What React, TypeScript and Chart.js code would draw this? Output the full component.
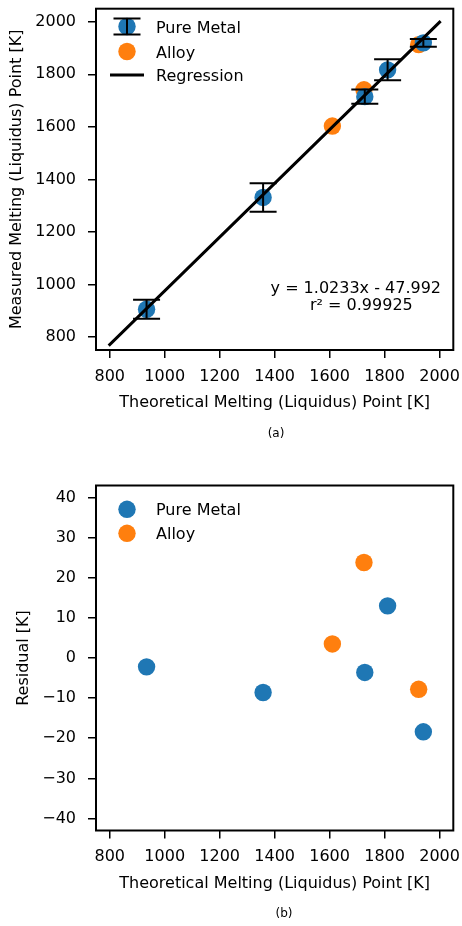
import React, { useEffect, useRef } from 'react';
import { Chart, registerables } from 'chart.js';
Chart.register(...registerables);

const FONT = 'DejaVu Sans';
const FS = 16;
const BLUE = '#1f77b4';
const ORANGE = '#ff7f0e';
const INK = '#000000';

const X_TICKS = [800, 1000, 1200, 1400, 1600, 1800, 2000];
const Y_TICKS_A = [800, 1000, 1200, 1400, 1600, 1800, 2000];
const Y_TICKS_B = [-40, -30, -20, -10, 0, 10, 20, 30, 40];

// Pure metals
const PURE_X = [934, 1358, 1728, 1811, 1941];
const PURE_Y = [905, 1331, 1715, 1817, 1920];
const PURE_ERR = [36, 54, 27, 40, 14.5];
const PURE_RES = [-2.2, -8.6, -3.6, 13.0, -18.4];

// Alloys
const ALLOY_X = [1610, 1725, 1924];
const ALLOY_Y = [1603, 1741, 1913];
const ALLOY_RES = [3.5, 23.8, -7.8];

// Regression line endpoints
const REG_X = [800, 2000];
const REG_Y = [770.6, 1998.6];

const EQ_LINE = 'y = 1.0233x - 47.992';
const R2_LINE = 'r² = 0.99925';

const fmt = (v: number) => (v < 0 ? '\u2212' + Math.abs(v) : String(v));

type LegendEntry = { kind: 'err' | 'dot' | 'line'; color: string; y: number; label: string };

function makeConfig(panel: 'a' | 'b'): any {
  const isA = panel === 'a';
  const yTicks = isA ? Y_TICKS_A : Y_TICKS_B;
  const legend: LegendEntry[] = isA
    ? [
        { kind: 'err', color: BLUE, y: 26.5, label: 'Pure Metal' },
        { kind: 'dot', color: ORANGE, y: 51.5, label: 'Alloy' },
        { kind: 'line', color: INK, y: 75, label: 'Regression' },
      ]
    : [
        { kind: 'dot', color: BLUE, y: 46.3, label: 'Pure Metal' },
        { kind: 'dot', color: ORANGE, y: 70.3, label: 'Alloy' },
      ];

  const datasets: any[] = [];
  if (isA) {
    datasets.push({
      label: 'Regression',
      data: REG_X.map((x, i) => ({ x, y: REG_Y[i] })),
      showLine: true,
      borderColor: INK,
      borderWidth: 3,
      pointRadius: 0,
      borderCapStyle: 'square',
      order: 0,
    });
  }
  datasets.push({
    label: 'Pure Metal',
    data: PURE_X.map((x, i) => ({ x, y: isA ? PURE_Y[i] : PURE_RES[i] })),
    backgroundColor: BLUE,
    borderColor: BLUE,
    borderWidth: 0,
    pointRadius: 8.7,
    order: 1,
  });
  datasets.push({
    label: 'Alloy',
    data: ALLOY_X.map((x, i) => ({ x, y: isA ? ALLOY_Y[i] : ALLOY_RES[i] })),
    backgroundColor: ORANGE,
    borderColor: ORANGE,
    borderWidth: 0,
    pointRadius: 8.7,
    order: 2,
  });

  const errorBars = {
    id: 'errorBars' + panel,
    afterDatasetsDraw(chart: any) {
      if (!isA) return;
      const { ctx, scales } = chart;
      ctx.save();
      ctx.strokeStyle = INK;
      ctx.lineWidth = 2;
      PURE_X.forEach((x, i) => {
        const px = scales.x.getPixelForValue(x);
        const top = scales.y.getPixelForValue(PURE_Y[i] + PURE_ERR[i]);
        const bot = scales.y.getPixelForValue(PURE_Y[i] - PURE_ERR[i]);
        ctx.beginPath();
        ctx.moveTo(px, top);
        ctx.lineTo(px, bot);
        ctx.moveTo(px - 13.5, top);
        ctx.lineTo(px + 13.5, top);
        ctx.moveTo(px - 13.5, bot);
        ctx.lineTo(px + 13.5, bot);
        ctx.stroke();
      });
      ctx.restore();
    },
  };

  const decor = {
    id: 'decor' + panel,
    afterDraw(chart: any) {
      const { ctx, chartArea } = chart;
      ctx.save();
      // frame
      ctx.strokeStyle = INK;
      ctx.lineWidth = 2;
      ctx.strokeRect(chartArea.left, chartArea.top, chartArea.right - chartArea.left, chartArea.bottom - chartArea.top);
      // legend
      const mx = 127;
      ctx.font = `${FS}px "${FONT}"`;
      ctx.textAlign = 'left';
      ctx.textBaseline = 'alphabetic';
      legend.forEach((e) => {
        if (e.kind === 'line') {
          ctx.strokeStyle = INK;
          ctx.lineWidth = 3;
          ctx.beginPath();
          ctx.moveTo(110, e.y);
          ctx.lineTo(144, e.y);
          ctx.stroke();
        } else {
          ctx.fillStyle = e.color;
          ctx.beginPath();
          ctx.arc(mx, e.y, 8.7, 0, Math.PI * 2);
          ctx.fill();
          if (e.kind === 'err') {
            ctx.strokeStyle = INK;
            ctx.lineWidth = 2;
            ctx.beginPath();
            ctx.moveTo(mx, e.y - 8);
            ctx.lineTo(mx, e.y + 8);
            ctx.moveTo(mx - 13.5, e.y - 8);
            ctx.lineTo(mx + 13.5, e.y - 8);
            ctx.moveTo(mx - 13.5, e.y + 8);
            ctx.lineTo(mx + 13.5, e.y + 8);
            ctx.stroke();
          }
        }
        ctx.fillStyle = INK;
        ctx.fillText(e.label, 156, e.y + 6);
      });
      // regression annotation
      if (isA) {
        ctx.textAlign = 'right';
        ctx.fillText(EQ_LINE, 441, 292.5);
        ctx.textAlign = 'left';
        ctx.fillText(R2_LINE, 310, 310);
      }
      // caption
      ctx.font = `12px "${FONT}"`;
      ctx.textAlign = 'center';
      ctx.textBaseline = 'middle';
      ctx.fillText(isA ? '(a)' : '(b)', isA ? 276 : 284, isA ? 434 : 451.3);
      ctx.restore();
    },
  };

  const topPad = isA ? 5.5 : 22.5;
  const areaBottom = isA ? 350 : 367.5;
  const axisBottom = isA ? 420 : 437.5;

  return {
    type: 'scatter',
    data: { datasets },
    plugins: [errorBars, decor],
    options: {
      responsive: false,
      devicePixelRatio: 1,
      animation: false,
      layout: { padding: { left: 0, right: 7, top: topPad, bottom: 463 - axisBottom } },
      plugins: { legend: { display: false }, tooltip: { enabled: false } },
      scales: {
        x: {
          type: 'linear',
          min: 750,
          max: 2050,
          afterBuildTicks: (s: any) => {
            s.ticks = X_TICKS.map((v) => ({ value: v }));
          },
          afterFit: (s: any) => {
            s.height = axisBottom - areaBottom;
            s.paddingLeft = 0;
            s.paddingRight = 0;
          },
          grid: { display: true, drawOnChartArea: false, drawTicks: true, tickLength: 8, color: INK, lineWidth: 1.5 },
          border: { display: false },
          ticks: {
            color: INK,
            font: { family: FONT, size: FS },
            padding: 9,
            maxRotation: 0,
            autoSkip: false,
            callback: (v: any) => fmt(Number(v)),
          },
          title: {
            display: true,
            text: 'Theoretical Melting (Liquidus) Point [K]',
            color: INK,
            font: { family: FONT, size: FS },
            padding: { top: 0, bottom: 7.4 },
          },
        },
        y: {
          type: 'linear',
          min: isA ? 750 : -43,
          max: isA ? 2050 : 43,
          afterBuildTicks: (s: any) => {
            s.ticks = yTicks.map((v) => ({ value: v }));
          },
          afterFit: (s: any) => {
            s.width = 96;
            s.paddingTop = 0;
            s.paddingBottom = 0;
          },
          grid: { display: true, drawOnChartArea: false, drawTicks: true, tickLength: 8, color: INK, lineWidth: 1.5 },
          border: { display: false },
          ticks: {
            color: INK,
            font: { family: FONT, size: FS },
            padding: 12,
            autoSkip: false,
            callback: (v: any) => fmt(Number(v)),
          },
          title: {
            display: true,
            text: isA ? 'Measured Melting (Liquidus) Point [K]' : 'Residual [K]',
            color: INK,
            font: { family: FONT, size: FS },
            padding: { top: isA ? 7.4 : 14.4, bottom: 0 },
          },
        },
      },
    },
  };
}

export default function App() {
  const refA = useRef<HTMLCanvasElement>(null);
  const refB = useRef<HTMLCanvasElement>(null);
  useEffect(() => {
    document.body.style.margin = '0';
    const a = new Chart(refA.current as HTMLCanvasElement, makeConfig('a'));
    const b = new Chart(refB.current as HTMLCanvasElement, makeConfig('b'));
    return () => {
      a.destroy();
      b.destroy();
    };
  }, []);
  return (
    <div style={{ width: 462, height: 926, background: '#ffffff' }}>
      <canvas ref={refA} width={462} height={463} style={{ display: 'block' }} />
      <canvas ref={refB} width={462} height={463} style={{ display: 'block' }} />
    </div>
  );
}
